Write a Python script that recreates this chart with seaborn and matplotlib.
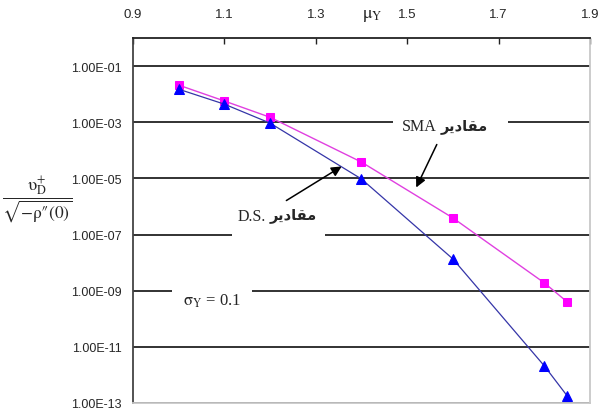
import matplotlib
matplotlib.use("Agg")
import matplotlib.pyplot as plt
import pandas as pd
import seaborn as sns
from matplotlib.patches import Rectangle

# mu_Y values and the two series
mu_y = [1.0, 1.1, 1.2, 1.4, 1.6, 1.8, 1.85]
sma_vals = [2.1e-2, 5.7e-3, 1.5e-3, 3.8e-5, 3.9e-7, 1.9e-9, 4.0e-10]
ds_vals = [1.5e-2, 4.4e-3, 9.3e-4, 9.5e-6, 1.35e-8, 2.1e-12, 1.8e-13]

x_ticks = [0.9, 1.1, 1.3, 1.5, 1.7, 1.9]
y_exps = [-13, -11, -9, -7, -5, -3, -1]

# Arabic "مقادير" in presentation forms, visual order (matplotlib has no shaping)
ARABIC = "\uFEAE\uFEF3\uFEA9\uFE8E\uFED8\uFEE3"

sns.set_theme(style="white")
plt.rcParams["font.family"] = ["Liberation Sans", "DejaVu Sans"]
plt.rcParams["mathtext.fontset"] = "stix"

sma = pd.DataFrame({"mu": mu_y, "val": sma_vals})
ds = pd.DataFrame({"mu": mu_y, "val": ds_vals})

W, H = 605, 414
fig = plt.figure(figsize=(W / 100, H / 100), dpi=100)
ax = fig.add_axes([133 / W, 10 / H, 457 / W, 365 / H])

sns.lineplot(data=sma, x="mu", y="val", ax=ax, color="#e040e0", lw=1.0,
             marker="s", markersize=6, markerfacecolor="#ff00ff",
             markeredgecolor="#ff00ff", zorder=5)
sns.lineplot(data=ds, x="mu", y="val", ax=ax, color="#3535a8", lw=0.9,
             marker="^", markersize=6.5, markerfacecolor="#0000ff",
             markeredgecolor="#0000ff", zorder=5)

ax.set_yscale("log")
ax.set_ylim(1e-13, 1)
ax.set_xlim(0.9, 1.9)
ax.minorticks_off()

ax.set_yticks([10.0 ** e for e in y_exps])
ax.set_yticklabels([f"1.00E{e:03d}" for e in y_exps], fontsize=9)
ax.yaxis.grid(True, color="#222222", lw=1.3)
ax.tick_params(axis="y", direction="out", length=5, width=1.2, color="#222222", pad=3)

ax.xaxis.tick_top()
ax.set_xticks(x_ticks)
ax.set_xticklabels([f"{t:.1f}" for t in x_ticks], fontsize=9.5)
ax.tick_params(axis="x", direction="in", length=4, width=1.0, color="#222222", pad=13)

ax.set_xlabel("")
ax.set_ylabel("")
for side, c in [("left", "#444444"), ("top", "#222222"), ("right", "#c8c8c8"), ("bottom", "#c8c8c8")]:
    ax.spines[side].set_visible(True)
    ax.spines[side].set_color(c)
    ax.spines[side].set_linewidth(1.3)


def px(x, y):
    """reference pixel -> axes fraction"""
    return ((x - 133) / 457, (404 - y) / 365)


# white text boxes that break the grid lines
for (x0, y0, x1, y1) in [(393, 108, 508, 146), (232, 198, 325, 242), (172, 283, 252, 320)]:
    a0 = px(x0, y1)
    a1 = px(x1, y0)
    ax.add_patch(Rectangle(a0, a1[0] - a0[0], a1[1] - a0[1], transform=ax.transAxes,
                           facecolor="white", edgecolor="none", zorder=3))

serif = ["Liberation Serif", "DejaVu Serif"]
arab = ["DejaVu Sans"]
ax.text(*px(437, 127), "SMA", transform=ax.transAxes, ha="right", va="center",
        fontsize=11.5, family=serif, zorder=4)
ax.text(*px(441, 126), ARABIC, transform=ax.transAxes, ha="left", va="center",
        fontsize=10.5, family=arab, fontweight="bold", zorder=4)
ax.text(*px(266, 217), "D.S.", transform=ax.transAxes, ha="right", va="center",
        fontsize=11.5, family=serif, zorder=4)
ax.text(*px(270, 216), ARABIC, transform=ax.transAxes, ha="left", va="center",
        fontsize=10.5, family=arab, fontweight="bold", zorder=4)
ax.text(*px(212, 301), r"$\mathrm{σ}_{\rm Y}$ = 0.1", transform=ax.transAxes, ha="center",
        va="center", fontsize=12, family=serif, zorder=4)

# arrows pointing at the curves
ax.annotate("", xy=px(415, 191), xycoords="axes fraction",
            xytext=px(438, 143), textcoords="axes fraction",
            arrowprops=dict(arrowstyle="-|>", color="black", lw=1.1, mutation_scale=15), zorder=6)
ax.annotate("", xy=px(344, 166), xycoords="axes fraction",
            xytext=px(284, 203), textcoords="axes fraction",
            arrowprops=dict(arrowstyle="-|>", color="black", lw=1.1, mutation_scale=15), zorder=6)

fig.text(372 / W, 1 - 16 / H, r"$\mathrm{μ}_{\rm Y}$", ha="center", va="center", fontsize=13)
fig.text(37 / W, 1 - 200 / H,
         r"$\dfrac{\mathrm{υ}_{\rm D}^{+}}{\sqrt{-\mathrm{ρ″(0)}}}$",
         ha="center", va="center", fontsize=12.5)

fig.savefig("out.png", dpi=100, facecolor="white")
